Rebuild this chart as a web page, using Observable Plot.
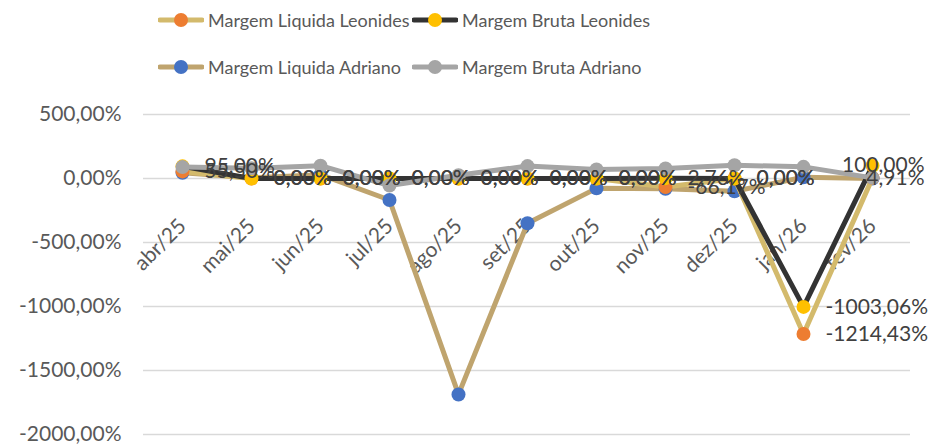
<!DOCTYPE html>
<html>
<head>
<meta charset="utf-8">
<script src="https://cdn.jsdelivr.net/npm/d3@7"></script>
<script src="https://cdn.jsdelivr.net/npm/@observablehq/plot@0.6"></script>
<style>
  html, body { margin: 0; padding: 0; background: #fff; }
  #wrap { width: 929px; height: 446px; position: relative; overflow: hidden; font-family: Lato, sans-serif; }
  #legend { position: relative; width: 929px; height: 95px; }
  .item { position: absolute; height: 24px; display: flex; align-items: center; }
  .item svg { flex: none; }
  .item span { font-size: 18px; color: #595959; margin-left: 4px; white-space: nowrap; }
</style>
</head>
<body>
<div id="wrap">
  <div id="legend"></div>
  <div id="chart"></div>
</div>
<script>
const months = ["abr/25","mai/25","jun/25","jul/25","ago/25","set/25","out/25","nov/25","dez/25","jan/26","fev/26"];
const liqLeonides   = [55.5, 0, 0, 0, 0, 0, 0, -66.17, 0, -1214.43, 4.91];
const brutaLeonides = [95, 0, 0, 0, 0, 0, 0, 2.76, 0, -1003.06, 100];
const liqAdriano    = [45, 5, 30, -168, -1687, -350, -77, -80, -100, 10, 0];
const brutaAdriano  = [90, 80, 100, -55, 26, 97, 71, 79, 104, 91, 5];
const yTicks = [500, 0, -500, -1000, -1500, -2000];

const seriesNames = ["Margem Liquida Leonides", "Margem Bruta Leonides", "Margem Liquida Adriano", "Margem Bruta Adriano"];
const seriesValues = [liqLeonides, brutaLeonides, liqAdriano, brutaAdriano];
const lineColors = ["#D3BA6C", "#333333", "#BFA46E", "#A5A5A5"];
const dotColors = ["#ED7D31", "#FFC000", "#4472C4", "#A5A5A5"];
const labeled = [true, true, false, false];
// drawing order (bottom to top)
const drawOrder = [2, 0, 1, 3];

const fmt = v => v.toFixed(2).replace(".", ",") + "%";

// legend
const legend = document.getElementById("legend");
const legendPos = [[158, 8], [412, 8], [158, 55], [412, 55]];
seriesNames.forEach((name, i) => {
  const div = document.createElement("div");
  div.className = "item";
  div.style.left = legendPos[i][0] + "px";
  div.style.top = legendPos[i][1] + "px";
  div.innerHTML = `<svg width="46" height="24"><line x1="2" y1="12" x2="44" y2="12" stroke="${lineColors[i]}" stroke-width="5" stroke-linecap="round"/><circle cx="23" cy="12" r="7" fill="${dotColors[i]}"/></svg><span>${name}</span>`;
  legend.appendChild(div);
});

const rows = seriesValues.map((vals, s) => months.map((m, j) => ({series: s, month: m, value: vals[j], last: j === months.length - 1})));

const marks = [
  Plot.gridY(yTicks, {stroke: "#D9D9D9", strokeOpacity: 1, strokeWidth: 1.5}),
  Plot.axisY(yTicks, {tickSize: 0, tickPadding: 22, tickFormat: fmt, fontSize: 21, fill: "#595959", label: null}),
  Plot.text(months, {x: d => d, y: () => 0, text: d => d, rotate: -45, textAnchor: "end", dx: 0, dy: 44, fontSize: 21, fill: "#595959"})
];
drawOrder.forEach(s => {
  const r = rows[s];
  marks.push(Plot.line(r, {x: "month", y: "value", stroke: lineColors[s], strokeWidth: 5, strokeLinejoin: "round", strokeLinecap: "round"}));
  marks.push(Plot.dot(r, {x: "month", y: "value", r: 7, fill: dotColors[s], stroke: "none"}));
});
rows.forEach((r, s) => {
  if (!labeled[s]) return;
  marks.push(Plot.text(r.filter(d => !d.last), {x: "month", y: "value", text: d => fmt(d.value), textAnchor: "start", dx: 22, fontSize: 21, fill: "#404040"}));
  marks.push(Plot.text(r.filter(d => d.last), {x: "month", y: "value", text: d => fmt(d.value), textAnchor: "end", dx: 52, fontSize: 21, fill: "#404040"}));
});

const chart = Plot.plot({
  width: 929,
  height: 351,
  marginTop: 19,
  marginBottom: 12,
  marginLeft: 143,
  marginRight: 19,
  style: {fontFamily: "Lato, sans-serif", background: "transparent", overflow: "visible"},
  x: {type: "point", domain: months, padding: 0.5, axis: null},
  y: {domain: [-2000, 500], axis: null},
  marks
});
document.getElementById("chart").appendChild(chart);
</script>
</body>
</html>
